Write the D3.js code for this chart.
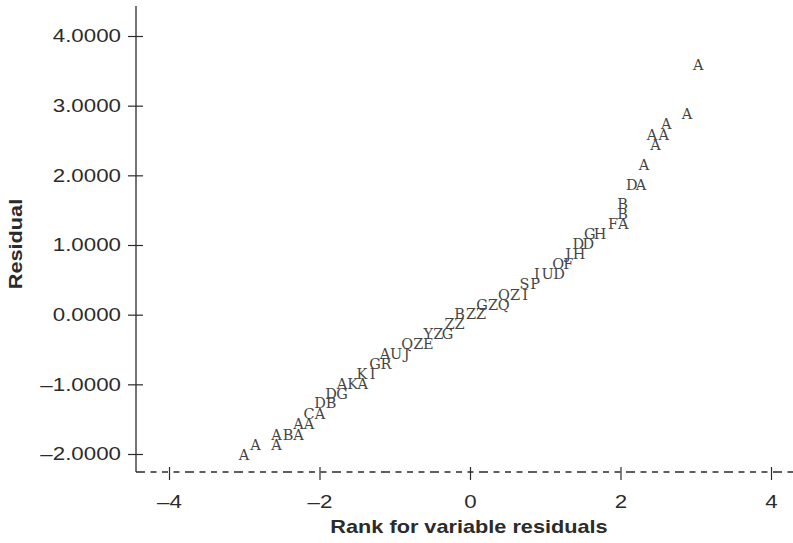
<!DOCTYPE html>
<html>
<head>
<meta charset="utf-8">
<script src="https://cdn.jsdelivr.net/npm/d3@7"></script>
<style>
  html, body { margin: 0; padding: 0; background: #fff; }
  svg { display: block; }
</style>
</head>
<body>
<svg id="chart" width="793" height="543"></svg>
<script>
// ---- data ----
const pointLabels = [
  "A",
  "A","A",
  "A","B","A",
  "A","A",
  "C","A",
  "D","B",
  "D","G",
  "A","K","A",
  "K","I",
  "G","R",
  "A","U","J",
  "Q","Z","E",
  "Y","Z","G",
  "Z","Z",
  "B","Z","Z",
  "G","Z","Q",
  "Q","Z","I",
  "S","P",
  "I","U","D",
  "O","F",
  "J","H",
  "D","D",
  "G","H",
  "F","A",
  "B",
  "B",
  "D","A",
  "A",
  "A",
  "A","A",
  "A",
  "A",
  "A"
];
const rankValues = [
  -3.003,
  -2.850, -2.571,
  -2.571, -2.419, -2.279,
  -2.279, -2.140,
  -2.140, -1.993,
  -1.993, -1.847,
  -1.847, -1.701,
  -1.701, -1.559, -1.426,
  -1.435, -1.293,
  -1.262, -1.116,
  -1.130, -0.983, -0.841,
  -0.833, -0.687, -0.554,
  -0.554, -0.421, -0.299,
  -0.272, -0.140,
  -0.140, 0.013, 0.146,
  0.159, 0.306, 0.448,
  0.452, 0.598, 0.731,
  0.724, 0.864,
  0.890, 1.030, 1.183,
  1.173, 1.306,
  1.306, 1.449,
  1.439, 1.572,
  1.591, 1.728,
  1.900, 2.037,
  2.029,
  2.029,
  2.149, 2.272,
  2.312,
  2.465,
  2.419, 2.574,
  2.609,
  2.884,
  3.034
];
const residualValues = [
  -2.014,
  -1.870, -1.870,
  -1.717, -1.717, -1.717,
  -1.569, -1.569,
  -1.418, -1.418,
  -1.267, -1.267,
  -1.131, -1.131,
  -0.990, -0.990, -0.990,
  -0.841, -0.841,
  -0.698, -0.698,
  -0.560, -0.560, -0.560,
  -0.416, -0.416, -0.416,
  -0.277, -0.277, -0.277,
  -0.123, -0.123,
  0.010, 0.010, 0.010,
  0.144, 0.144, 0.144,
  0.293, 0.293, 0.293,
  0.445, 0.445,
  0.584, 0.584, 0.584,
  0.728, 0.728,
  0.876, 0.876,
  1.022, 1.022,
  1.166, 1.166,
  1.309, 1.309,
  1.455,
  1.593,
  1.866, 1.866,
  2.156,
  2.436,
  2.579, 2.579,
  2.737,
  2.881,
  3.584
];
const xTicks = [-4, -2, 0, 2, 4];
const yTicks = [-2, -1, 0, 1, 2, 3, 4];
const xTitle = "Rank for variable residuals";
const yTitle = "Residual";

// ---- layout ----
const svg = d3.select("#chart");
const ink = "#2b2b2b";
const sansFont = "'Liberation Sans', Arial, sans-serif";
const widen = 1.24;      // the reference type is set wide
const axisX = 136;       // vertical axis position
const baseY = 472;       // dashed horizontal line
const x = d3.scaleLinear().domain([-4, 4]).range([169, 771]);
const y = d3.scaleLinear().domain([-2, 4]).range([454, 36]);

const fmtY = v => (v < 0 ? "\u2013" : "") + d3.format(".4f")(Math.abs(v));
const fmtX = v => (v < 0 ? "\u2013" : "") + Math.abs(v);

// Y axis
const yAxis = d3.axisLeft(y).tickValues(yTicks).tickFormat(fmtY).tickSize(8).tickPadding(6);
const gy = svg.append("g").attr("transform", `translate(${axisX},0)`).call(yAxis);
gy.select(".domain").remove();
gy.selectAll(".tick line").attr("x1", 7).attr("x2", -8).attr("stroke", ink).attr("stroke-width", 1.2);
gy.selectAll(".tick text")
  .attr("x", null)
  .attr("transform", `translate(-15,0) scale(${widen},1)`)
  .attr("fill", ink)
  .style("font-family", sansFont)
  .style("font-size", "18px");
svg.append("line")
  .attr("x1", axisX).attr("x2", axisX)
  .attr("y1", 6).attr("y2", baseY)
  .attr("stroke", ink).attr("stroke-width", 1.3);

// X axis (dashed baseline)
svg.append("line")
  .attr("x1", axisX).attr("x2", 793)
  .attr("y1", baseY).attr("y2", baseY)
  .attr("stroke", ink).attr("stroke-width", 1.3)
  .attr("stroke-dasharray", "9,5.5,6,5.5,6,5.5,6,5.5");
const xAxis = d3.axisBottom(x).tickValues(xTicks).tickFormat(fmtX).tickSize(8).tickPadding(15);
const gx = svg.append("g").attr("transform", `translate(0,${baseY})`).call(xAxis);
gx.select(".domain").remove();
gx.selectAll(".tick line").attr("y1", -5).attr("y2", 8).attr("stroke", ink).attr("stroke-width", 1.2);
gx.selectAll(".tick text")
  .attr("transform", `scale(${widen},1)`)
  .attr("fill", ink)
  .style("font-family", sansFont)
  .style("font-size", "18px");

// Titles
svg.append("text")
  .attr("transform", `translate(469,533) scale(${widen},1)`)
  .attr("text-anchor", "middle")
  .attr("fill", ink)
  .style("font-family", sansFont)
  .style("font-size", "17.5px").style("font-weight", "bold")
  .text(xTitle);
svg.append("text")
  .attr("transform", `translate(22,244) rotate(-90) scale(${widen},1)`)
  .attr("text-anchor", "middle")
  .attr("fill", ink)
  .style("font-family", sansFont)
  .style("font-size", "17.5px").style("font-weight", "bold")
  .text(yTitle);

// Points as letters
const pts = pointLabels.map((l, i) => ({ l, r: rankValues[i], v: residualValues[i] }));
svg.append("g").selectAll("text")
  .data(pts)
  .join("text")
  .attr("x", d => x(d.r))
  .attr("y", d => y(d.v))
  .attr("dy", "0.37em")
  .attr("text-anchor", "middle")
  .attr("fill", "#454545")
  .style("font-family", "'DejaVu Serif', serif")
  .style("font-size", "14.5px")
  .text(d => d.l);
</script>
</body>
</html>
